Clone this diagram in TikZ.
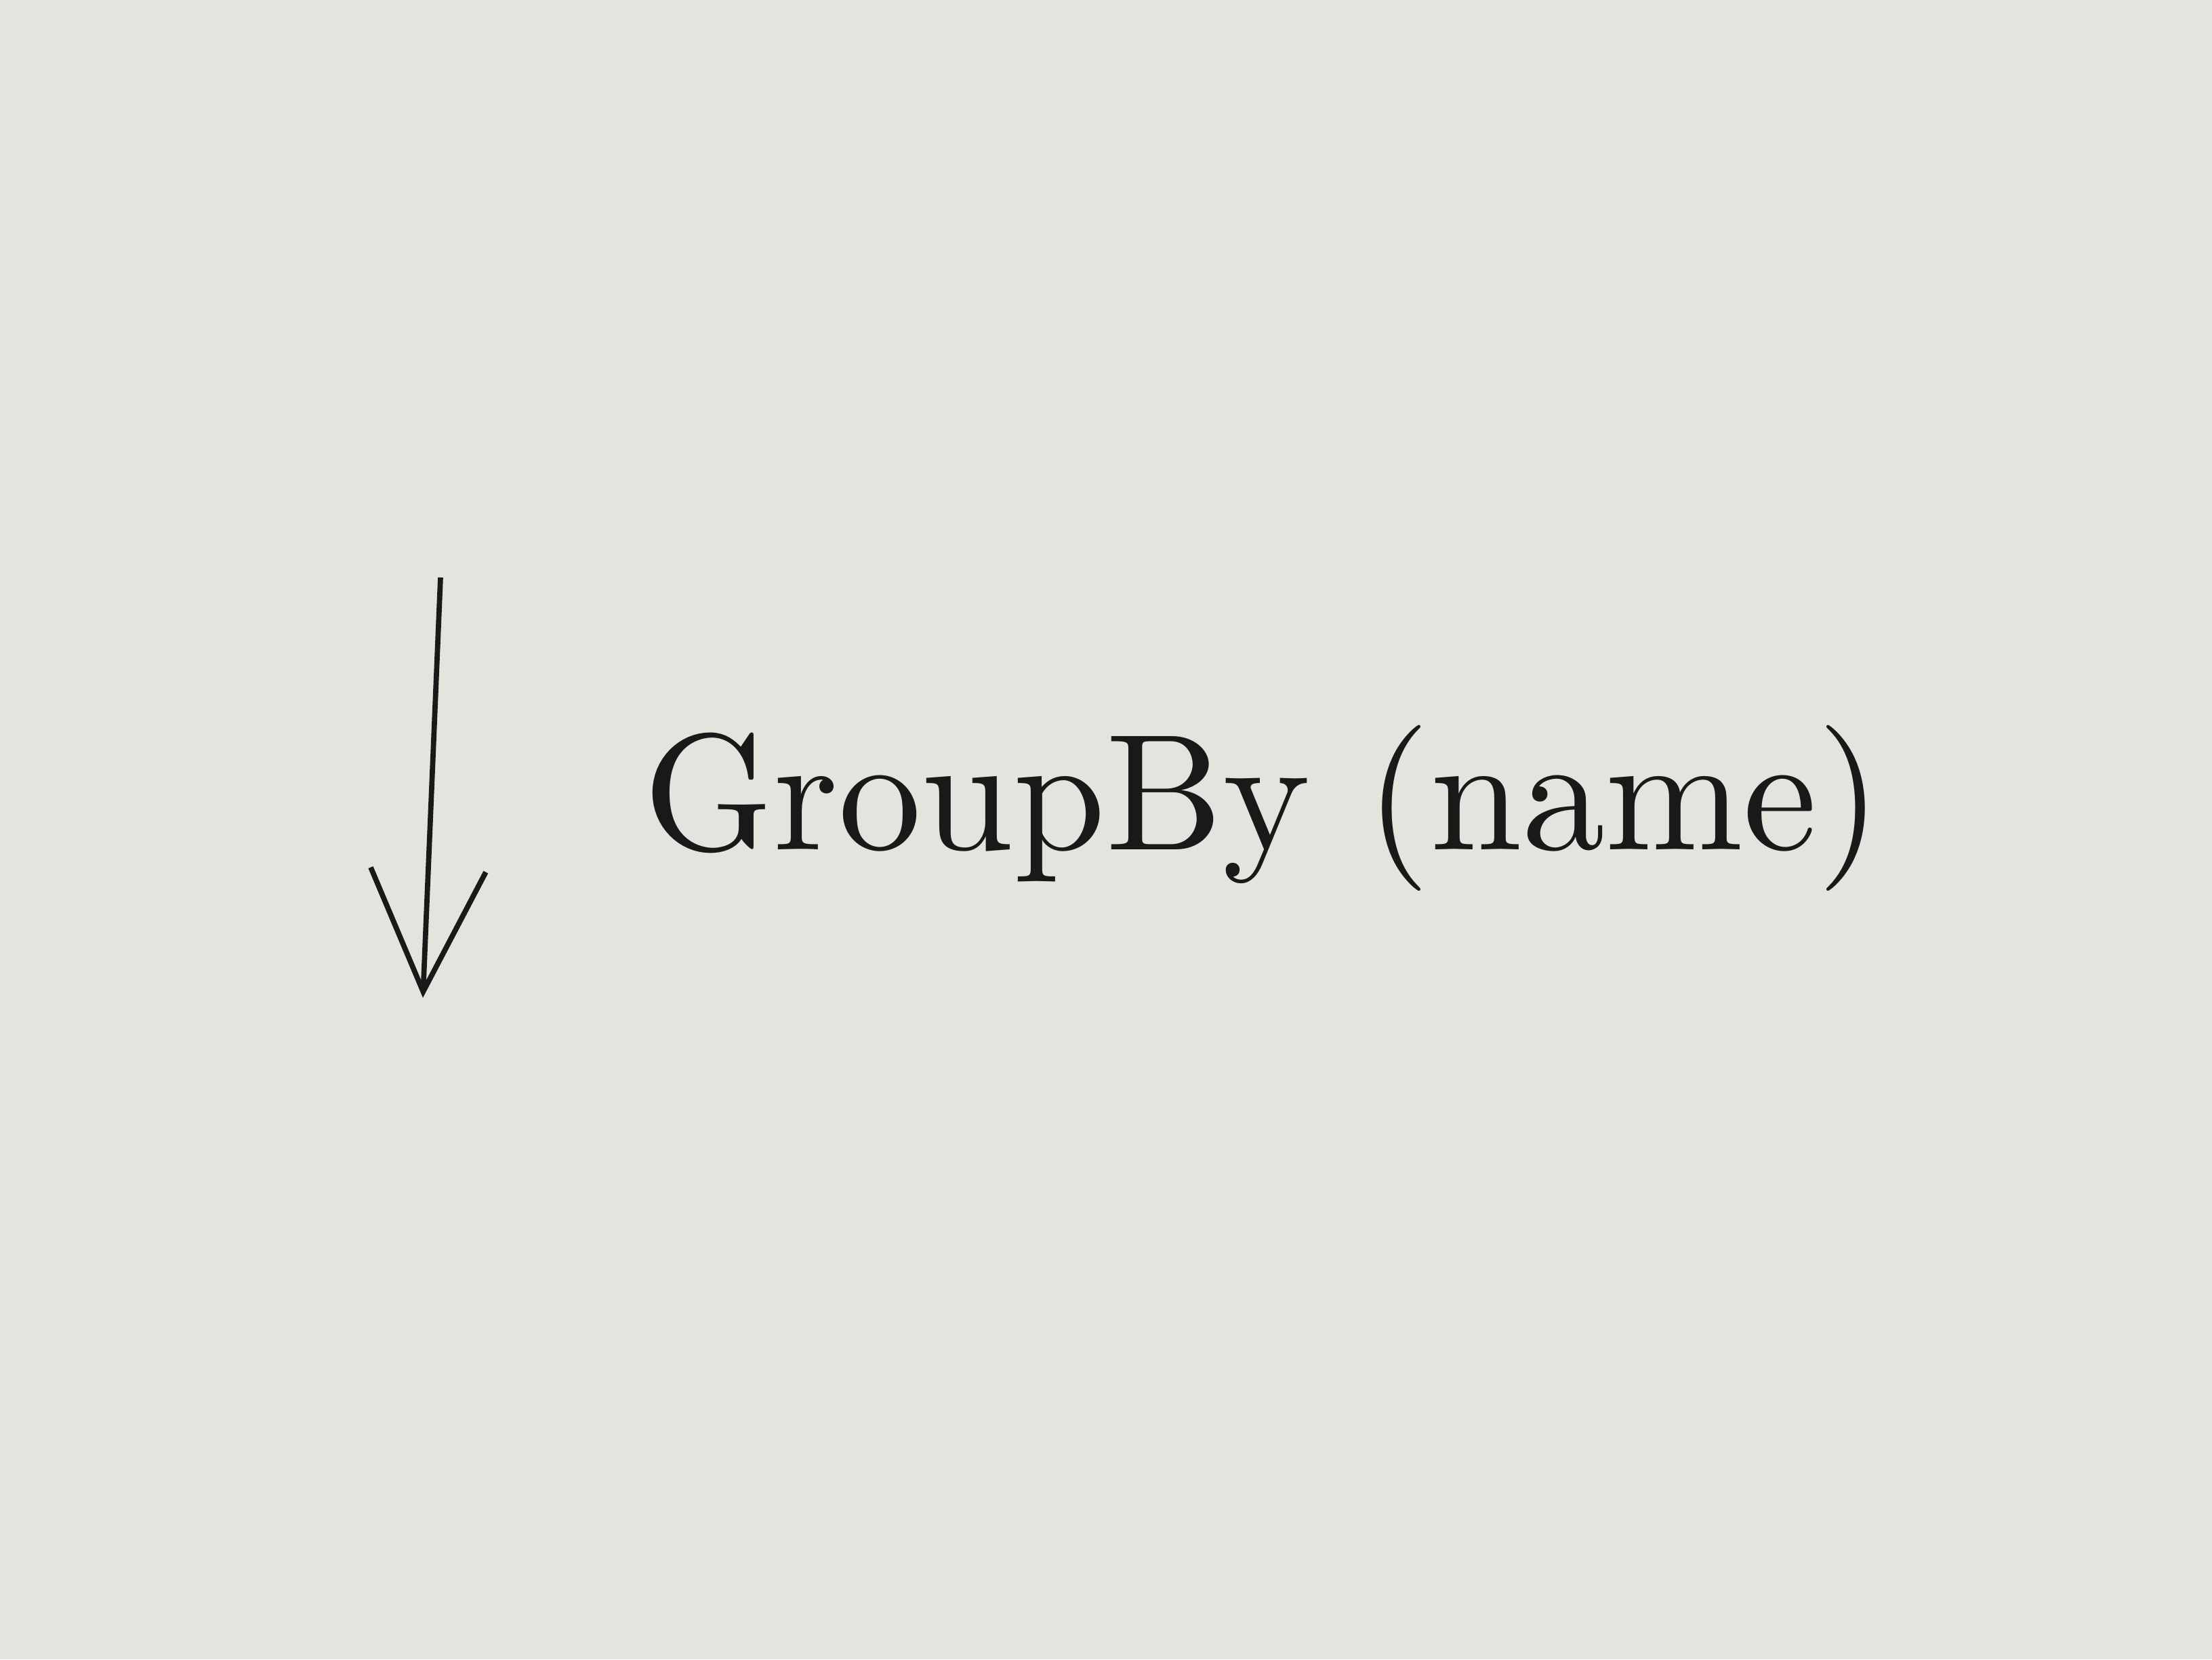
\documentclass[tikz,border=0pt]{standalone}
\usetikzlibrary{arrows.meta,positioning}
\definecolor{paper}{RGB}{228,228,222}
\definecolor{ink}{RGB}{25,25,25}
\begin{document}
\begin{tikzpicture}[line width=1.1pt, draw=ink]
  \fill[paper] (0,0) rectangle (16.32,12.24);
  \useasboundingbox (0,0) rectangle (16.32,12.24);

  \coordinate (top) at (3.25,7.98);
  \coordinate (bottom) at (3.12,4.88);
  \draw[ink, -{Straight Barb[length=9mm,width=8.5mm,line width=1.1pt]}] (top) -- (bottom);

  \node (groupby) [anchor=west, text=ink, inner sep=0pt, scale=3.48] at (4.68,6.28) {GroupBy (name)};
\end{tikzpicture}
\end{document}
